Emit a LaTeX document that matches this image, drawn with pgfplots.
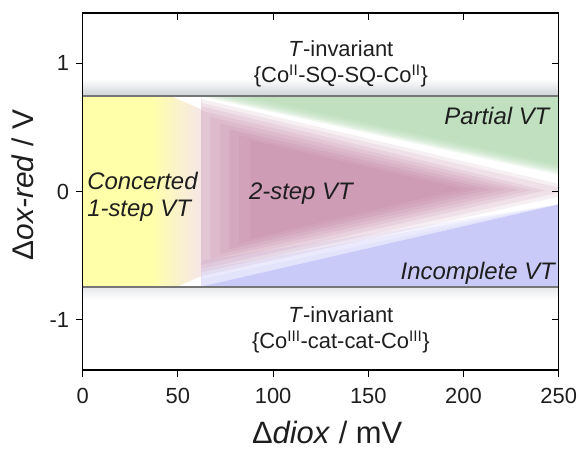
\documentclass[border=0pt]{standalone}
\usepackage{pgfplots}
\pgfplotsset{compat=1.18}
\usepackage{fontspec}
\setmainfont{Liberation Sans}
\definecolor{yel}{RGB}{255,255,170}
\definecolor{yelfade}{RGB}{246,230,232}
\definecolor{grn}{RGB}{165,210,165}
\definecolor{blu}{RGB}{202,202,248}
\definecolor{redc}{RGB}{185,115,150}
\definecolor{lineg}{RGB}{118,118,118}
\definecolor{bandg}{RGB}{205,210,214}
\definecolor{bandg2}{RGB}{228,230,232}
\definecolor{txt}{RGB}{30,30,30}
\begin{document}
\begin{tikzpicture}
\useasboundingbox (-82.7bp,-80bp) rectangle (497.3bp,370bp);
\begin{axis}[
  at={(0,0)}, anchor=south west,
  scale only axis, width=476bp, height=357bp,
  xmin=0, xmax=250, ymin=-1.39, ymax=1.39,
  xtick={0,50,100,150,200,250}, ytick={-1,0,1},
  xtick pos=left, ytick pos=left,
  tick align=outside, major tick length=7bp,
  tick style={black, line width=1bp},
  axis line style={black, line width=1.2bp},
  axis on top,
  ticklabel style={font=\fontsize{22}{26}\selectfont, text=txt},
  xticklabel style={yshift=-8bp},
  yticklabel style={xshift=-3bp},
  /pgf/number format/assume math mode=true,
  clip=true,
]
% grey bands
\addplot[draw=none, top color=white, bottom color=bandg] coordinates {(0,0.74) (250,0.74) (250,0.88) (0,0.88)} -- cycle;
\addplot[draw=none, top color=bandg2, bottom color=white] coordinates {(0,-0.74) (250,-0.74) (250,-0.84) (0,-0.84)} -- cycle;
% yellow (concerted 1-step VT)
\addplot[draw=none, fill=yel] coordinates {(0,-0.74) (36,-0.74) (36,0.74) (0,0.74)} -- cycle;
\addplot[draw=none, left color=yel, right color=yelfade] coordinates {(36,-0.74) (62.3,-0.74) (62.3,0.74) (36,0.74)} -- cycle;
\addplot[draw=none, fill=white] coordinates {(47,0.74) (62.3,0.74) (62.3,0.64)} -- cycle;
\addplot[draw=none, fill=white] coordinates {(50,-0.74) (62.3,-0.74) (62.3,-0.66)} -- cycle;
% green (partial VT), soft lower edge
\addplot[draw=none, fill=grn, fill opacity=0.18] coordinates {(62.3,0.74) (250,0.74) (250,0.13)} -- cycle;
\addplot[draw=none, fill=grn, fill opacity=0.18] coordinates {(66.0,0.74) (250,0.74) (250,0.145)} -- cycle;
\addplot[draw=none, fill=grn, fill opacity=0.18] coordinates {(70.0,0.74) (250,0.74) (250,0.16)} -- cycle;
\addplot[draw=none, fill=grn, fill opacity=0.18] coordinates {(75.0,0.74) (250,0.74) (250,0.175)} -- cycle;
\addplot[draw=none, fill=grn, fill opacity=0.18] coordinates {(80.0,0.74) (250,0.74) (250,0.19)} -- cycle;
\addplot[draw=none, fill=grn, fill opacity=0.18] coordinates {(86.0,0.74) (250,0.74) (250,0.205)} -- cycle;
% blue (incomplete VT)
\addplot[draw=none, fill=blu, fill opacity=0.22] coordinates {(62.3,-0.74) (250,-0.10) (62.3,-0.54)} -- cycle;
\addplot[draw=none, fill=blu, fill opacity=0.22] coordinates {(62.3,-0.74) (250,-0.10) (62.3,-0.61)} -- cycle;
\addplot[draw=none, fill=blu, fill opacity=0.22] coordinates {(62.3,-0.74) (250,-0.10) (62.3,-0.68)} -- cycle;
\addplot[draw=none, fill=blu] coordinates {(62.3,-0.74) (250,-0.74) (250,-0.10)} -- cycle;
% red (2-step VT), soft edges by layering
\addplot[draw=none, fill=redc, fill opacity=0.11] coordinates {(62.3,0.720) (250.0,0.060) (250.0,-0.040) (62.3,-0.660)} -- cycle;
\addplot[draw=none, fill=redc, fill opacity=0.12] coordinates {(62.3,0.690) (250.0,0.030) (250.0,-0.010) (62.3,-0.630)} -- cycle;
\addplot[draw=none, fill=redc, fill opacity=0.13] coordinates {(62.3,0.664) (242.9,0.008) (62.3,-0.606)} -- cycle;
\addplot[draw=none, fill=redc, fill opacity=0.13] coordinates {(62.3,0.629) (235.7,0.010) (62.3,-0.571)} -- cycle;
\addplot[draw=none, fill=redc, fill opacity=0.13] coordinates {(67.0,0.580) (228.6,0.012) (67.0,-0.530)} -- cycle;
\addplot[draw=none, fill=redc, fill opacity=0.13] coordinates {(72.0,0.530) (221.4,0.014) (72.0,-0.490)} -- cycle;
\addplot[draw=none, fill=redc, fill opacity=0.13] coordinates {(77.0,0.485) (214.3,0.016) (77.0,-0.450)} -- cycle;
\addplot[draw=none, fill=redc, fill opacity=0.13] coordinates {(82.0,0.440) (207.1,0.018) (82.0,-0.410)} -- cycle;
\addplot[draw=none, fill=redc, fill opacity=0.13] coordinates {(88.0,0.400) (200.0,0.020) (88.0,-0.370)} -- cycle;
% boundary lines
\addplot[lineg, line width=2bp] coordinates {(0,0.74) (250,0.74)};
\addplot[lineg, line width=2bp] coordinates {(0,-0.74) (250,-0.74)};
% texts
\node[anchor=base, text=txt, font=\fontsize{22}{26}\selectfont] at (axis cs:135.6,1.055) {\textit{T}-invariant};
\node[anchor=base, text=txt, font=\fontsize{22}{26}\selectfont] at (axis cs:135.6,0.847) {\{Co\textsuperscript{II}-SQ-SQ-Co\textsuperscript{II}\}};
\node[anchor=base, text=txt, font=\fontsize{22}{26}\selectfont] at (axis cs:135.6,-1.017) {\textit{T}-invariant};
\node[anchor=base, text=txt, font=\fontsize{22}{26}\selectfont] at (axis cs:135.6,-1.225) {\{Co\textsuperscript{III}-cat-cat-Co\textsuperscript{III}\}};
\node[anchor=base east, inner sep=0pt, text=txt, font=\fontsize{24}{28}\selectfont\itshape] at (axis cs:245.2,0.523) {Partial VT};
\node[anchor=base east, inner sep=0pt, text=txt, font=\fontsize{24}{28}\selectfont\itshape] at (axis cs:248.1,-0.687) {Incomplete VT};
\node[anchor=base west, inner sep=0pt, text=txt, font=\fontsize{24}{28}\selectfont\itshape] at (axis cs:2.3,0.016) {Concerted};
\node[anchor=base west, inner sep=0pt, text=txt, font=\fontsize{24}{28}\selectfont\itshape] at (axis cs:2.3,-0.192) {1-step VT};
\node[anchor=base, inner sep=0pt, text=txt, font=\fontsize{24}{28}\selectfont\itshape] at (axis cs:114.6,-0.062) {2-step VT};
\end{axis}
\begin{axis}[
  at={(0,0)}, anchor=south west,
  scale only axis, width=476bp, height=357bp,
  xmin=0, xmax=250, ymin=-1.39, ymax=1.39,
  xtick={0,50,100,150,200,250}, ytick={-1,0,1},
  xtick pos=right, ytick pos=right,
  tick align=inside, major tick length=7bp,
  tick style={black, line width=1bp},
  axis line style={black, line width=1.2bp},
  xticklabels={}, yticklabels={},
]
\end{axis}
\node[anchor=base, text=txt, font=\fontsize{31}{35}\selectfont] at (244.5bp,-73bp) {Δ\textit{diox} / mV};
\node[anchor=base, rotate=90, text=txt, font=\fontsize{30}{34}\selectfont] at (-49bp,185bp) {Δ\textit{ox-red} / V};
\end{tikzpicture}
\end{document}
